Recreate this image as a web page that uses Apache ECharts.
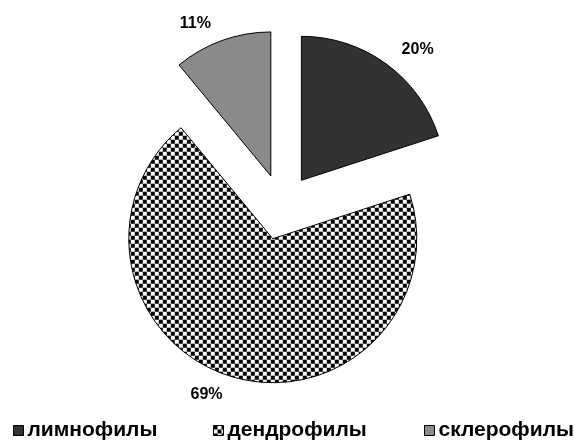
<!DOCTYPE html>
<html><head><meta charset="utf-8">
<script src="https://cdn.jsdelivr.net/npm/echarts@6/dist/echarts.min.js"></script>
<style>html,body{margin:0;padding:0;background:#fff}#c{width:575px;height:440px}</style>
</head><body><div id="c"></div>
<script>
const categories = ['лимнофилы', 'дендрофилы', 'склерофилы'];
const values = [20, 69, 11];

const pc = document.createElement('canvas');
pc.width = 8; pc.height = 8;
const g = pc.getContext('2d');
g.fillStyle = '#ffffff'; g.fillRect(0, 0, 8, 8);
g.fillStyle = '#000000'; g.fillRect(0, 0, 4, 4); g.fillRect(4, 4, 4, 4);

const fills = ['#323232', {image: pc, repeat: 'repeat'}, '#8a8a8a'];

const chart = echarts.init(document.getElementById('c'), null, {renderer: 'canvas'});
const font = {fontFamily: 'Liberation Sans, Arial, sans-serif', fontWeight: 'bold', color: '#000'};
const legendLefts = [8, 208, 419];
chart.setOption({
  animation: false,
  legend: categories.map((n, i) => ({
    data: [n], left: legendLefts[i], top: 415, itemWidth: 10, itemHeight: 10, itemGap: 4,
    icon: 'rect', selectedMode: false,
    itemStyle: {borderColor: '#000', borderWidth: 1},
    textStyle: Object.assign({fontSize: 21, padding: [0, 0, 0, -1]}, font)
  })),
  series: [{
    type: 'pie',
    center: [282, 207],
    radius: 144,
    startAngle: 90,
    clockwise: true,
    selectedMode: 'multiple',
    selectedOffset: 33,
    emphasis: {disabled: true},
    label: Object.assign({show: true, position: 'outside', formatter: '{c}%', fontSize: 16}, font),
    labelLine: {show: false, length: 18, length2: 0},
    itemStyle: {borderColor: '#000', borderWidth: 1},
    data: categories.map((n, i) => ({name: n, value: values[i], selected: true, itemStyle: {color: fills[i]}}))
  }]
});
</script></body></html>
